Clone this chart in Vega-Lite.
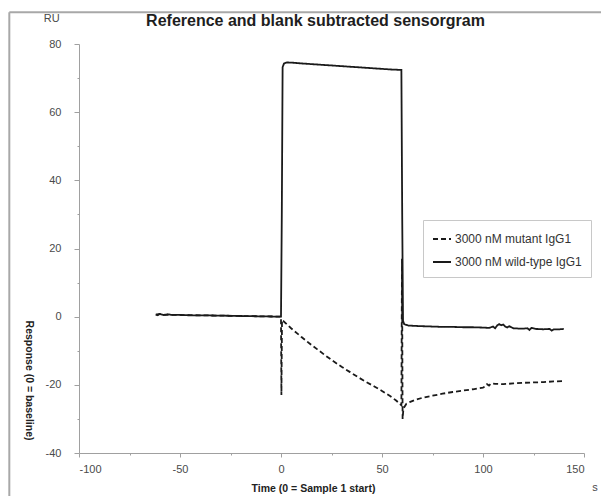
{
  "$schema": "https://vega.github.io/schema/vega-lite/v6.json",
  "width": 505,
  "height": 409,
  "autosize": {"type": "none"},
  "padding": {"left": 79, "top": 44, "right": 17, "bottom": 43},
  "background": "white",
  "title": {
    "text": "Reference and blank subtracted sensorgram",
    "font": "Liberation Sans",
    "fontSize": 16,
    "fontWeight": "bold",
    "color": "#1e1e1e",
    "anchor": "middle",
    "frame": "group",
    "dx": -16,
    "dy": 18,
    "offset": 0
  },
  "config": {
    "view": {"stroke": null},
    "font": "Liberation Sans"
  },
  "datasets": {
    "curves": [
      {"t": -62, "v": 0.6, "s": "3000 nM mutant IgG1"},
      {"t": -60, "v": 0.8, "s": "3000 nM mutant IgG1"},
      {"t": -58, "v": 0.5, "s": "3000 nM mutant IgG1"},
      {"t": -50, "v": 0.5, "s": "3000 nM mutant IgG1"},
      {"t": -40, "v": 0.4, "s": "3000 nM mutant IgG1"},
      {"t": -30, "v": 0.3, "s": "3000 nM mutant IgG1"},
      {"t": -20, "v": 0.2, "s": "3000 nM mutant IgG1"},
      {"t": -10, "v": 0.1, "s": "3000 nM mutant IgG1"},
      {"t": 0, "v": 0, "s": "3000 nM mutant IgG1"},
      {"t": 0.2, "v": -23, "s": "3000 nM mutant IgG1"},
      {"t": 0.5, "v": -1.0, "s": "3000 nM mutant IgG1"},
      {"t": 1, "v": -1.2, "s": "3000 nM mutant IgG1"},
      {"t": 3, "v": -2.3, "s": "3000 nM mutant IgG1"},
      {"t": 5, "v": -3.4, "s": "3000 nM mutant IgG1"},
      {"t": 8, "v": -4.9, "s": "3000 nM mutant IgG1"},
      {"t": 10, "v": -5.9, "s": "3000 nM mutant IgG1"},
      {"t": 14, "v": -7.8, "s": "3000 nM mutant IgG1"},
      {"t": 18, "v": -9.6, "s": "3000 nM mutant IgG1"},
      {"t": 22, "v": -11.4, "s": "3000 nM mutant IgG1"},
      {"t": 26, "v": -13.1, "s": "3000 nM mutant IgG1"},
      {"t": 30, "v": -14.7, "s": "3000 nM mutant IgG1"},
      {"t": 34, "v": -16.2, "s": "3000 nM mutant IgG1"},
      {"t": 38, "v": -17.7, "s": "3000 nM mutant IgG1"},
      {"t": 42, "v": -19.1, "s": "3000 nM mutant IgG1"},
      {"t": 46, "v": -20.4, "s": "3000 nM mutant IgG1"},
      {"t": 50, "v": -21.8, "s": "3000 nM mutant IgG1"},
      {"t": 54, "v": -23.3, "s": "3000 nM mutant IgG1"},
      {"t": 57, "v": -24.6, "s": "3000 nM mutant IgG1"},
      {"t": 59.6, "v": -26.0, "s": "3000 nM mutant IgG1"},
      {"t": 59.9, "v": 17, "s": "3000 nM mutant IgG1"},
      {"t": 60.2, "v": -30, "s": "3000 nM mutant IgG1"},
      {"t": 60.6, "v": -27, "s": "3000 nM mutant IgG1"},
      {"t": 61, "v": -26.6, "s": "3000 nM mutant IgG1"},
      {"t": 62, "v": -25.6, "s": "3000 nM mutant IgG1"},
      {"t": 64, "v": -25.0, "s": "3000 nM mutant IgG1"},
      {"t": 66, "v": -24.5, "s": "3000 nM mutant IgG1"},
      {"t": 70, "v": -23.8, "s": "3000 nM mutant IgG1"},
      {"t": 75, "v": -23.2, "s": "3000 nM mutant IgG1"},
      {"t": 80, "v": -22.6, "s": "3000 nM mutant IgG1"},
      {"t": 85, "v": -22.1, "s": "3000 nM mutant IgG1"},
      {"t": 90, "v": -21.7, "s": "3000 nM mutant IgG1"},
      {"t": 95, "v": -21.3, "s": "3000 nM mutant IgG1"},
      {"t": 100, "v": -20.8, "s": "3000 nM mutant IgG1"},
      {"t": 101, "v": -20.5, "s": "3000 nM mutant IgG1"},
      {"t": 102, "v": -19.8, "s": "3000 nM mutant IgG1"},
      {"t": 103, "v": -20.2, "s": "3000 nM mutant IgG1"},
      {"t": 104, "v": -19.6, "s": "3000 nM mutant IgG1"},
      {"t": 106, "v": -19.7, "s": "3000 nM mutant IgG1"},
      {"t": 110, "v": -19.8, "s": "3000 nM mutant IgG1"},
      {"t": 115, "v": -19.6, "s": "3000 nM mutant IgG1"},
      {"t": 120, "v": -19.4, "s": "3000 nM mutant IgG1"},
      {"t": 125, "v": -19.3, "s": "3000 nM mutant IgG1"},
      {"t": 130, "v": -19.2, "s": "3000 nM mutant IgG1"},
      {"t": 135, "v": -19.0, "s": "3000 nM mutant IgG1"},
      {"t": 140, "v": -18.9, "s": "3000 nM mutant IgG1"},

      {"t": -62, "v": 0.6, "s": "3000 nM wild-type IgG1"},
      {"t": -61, "v": 0.4, "s": "3000 nM wild-type IgG1"},
      {"t": -60, "v": 0.8, "s": "3000 nM wild-type IgG1"},
      {"t": -58, "v": 0.5, "s": "3000 nM wild-type IgG1"},
      {"t": -56, "v": 0.7, "s": "3000 nM wild-type IgG1"},
      {"t": -54, "v": 0.5, "s": "3000 nM wild-type IgG1"},
      {"t": -50, "v": 0.5, "s": "3000 nM wild-type IgG1"},
      {"t": -45, "v": 0.4, "s": "3000 nM wild-type IgG1"},
      {"t": -40, "v": 0.4, "s": "3000 nM wild-type IgG1"},
      {"t": -35, "v": 0.35, "s": "3000 nM wild-type IgG1"},
      {"t": -30, "v": 0.3, "s": "3000 nM wild-type IgG1"},
      {"t": -25, "v": 0.25, "s": "3000 nM wild-type IgG1"},
      {"t": -20, "v": 0.2, "s": "3000 nM wild-type IgG1"},
      {"t": -15, "v": 0.15, "s": "3000 nM wild-type IgG1"},
      {"t": -10, "v": 0.1, "s": "3000 nM wild-type IgG1"},
      {"t": -5, "v": 0.05, "s": "3000 nM wild-type IgG1"},
      {"t": 0, "v": 0, "s": "3000 nM wild-type IgG1"},
      {"t": 0.4, "v": 30, "s": "3000 nM wild-type IgG1"},
      {"t": 0.8, "v": 73.2, "s": "3000 nM wild-type IgG1"},
      {"t": 1.5, "v": 74.3, "s": "3000 nM wild-type IgG1"},
      {"t": 3, "v": 74.6, "s": "3000 nM wild-type IgG1"},
      {"t": 6, "v": 74.5, "s": "3000 nM wild-type IgG1"},
      {"t": 10, "v": 74.3, "s": "3000 nM wild-type IgG1"},
      {"t": 15, "v": 74.1, "s": "3000 nM wild-type IgG1"},
      {"t": 20, "v": 73.9, "s": "3000 nM wild-type IgG1"},
      {"t": 25, "v": 73.7, "s": "3000 nM wild-type IgG1"},
      {"t": 30, "v": 73.5, "s": "3000 nM wild-type IgG1"},
      {"t": 35, "v": 73.3, "s": "3000 nM wild-type IgG1"},
      {"t": 40, "v": 73.1, "s": "3000 nM wild-type IgG1"},
      {"t": 45, "v": 72.9, "s": "3000 nM wild-type IgG1"},
      {"t": 50, "v": 72.7, "s": "3000 nM wild-type IgG1"},
      {"t": 55, "v": 72.5, "s": "3000 nM wild-type IgG1"},
      {"t": 59.6, "v": 72.4, "s": "3000 nM wild-type IgG1"},
      {"t": 60, "v": 30, "s": "3000 nM wild-type IgG1"},
      {"t": 60.4, "v": -1.2, "s": "3000 nM wild-type IgG1"},
      {"t": 61, "v": -2.2, "s": "3000 nM wild-type IgG1"},
      {"t": 63, "v": -2.6, "s": "3000 nM wild-type IgG1"},
      {"t": 66, "v": -2.7, "s": "3000 nM wild-type IgG1"},
      {"t": 70, "v": -2.8, "s": "3000 nM wild-type IgG1"},
      {"t": 75, "v": -2.9, "s": "3000 nM wild-type IgG1"},
      {"t": 80, "v": -3.0, "s": "3000 nM wild-type IgG1"},
      {"t": 85, "v": -3.0, "s": "3000 nM wild-type IgG1"},
      {"t": 90, "v": -3.1, "s": "3000 nM wild-type IgG1"},
      {"t": 95, "v": -3.1, "s": "3000 nM wild-type IgG1"},
      {"t": 100, "v": -3.2, "s": "3000 nM wild-type IgG1"},
      {"t": 103, "v": -3.3, "s": "3000 nM wild-type IgG1"},
      {"t": 105, "v": -2.9, "s": "3000 nM wild-type IgG1"},
      {"t": 106, "v": -3.4, "s": "3000 nM wild-type IgG1"},
      {"t": 107, "v": -2.6, "s": "3000 nM wild-type IgG1"},
      {"t": 108, "v": -2.2, "s": "3000 nM wild-type IgG1"},
      {"t": 109, "v": -2.5, "s": "3000 nM wild-type IgG1"},
      {"t": 110, "v": -2.3, "s": "3000 nM wild-type IgG1"},
      {"t": 111, "v": -2.9, "s": "3000 nM wild-type IgG1"},
      {"t": 112, "v": -3.2, "s": "3000 nM wild-type IgG1"},
      {"t": 113, "v": -2.8, "s": "3000 nM wild-type IgG1"},
      {"t": 115, "v": -3.4, "s": "3000 nM wild-type IgG1"},
      {"t": 118, "v": -3.5, "s": "3000 nM wild-type IgG1"},
      {"t": 120, "v": -3.5, "s": "3000 nM wild-type IgG1"},
      {"t": 122, "v": -3.4, "s": "3000 nM wild-type IgG1"},
      {"t": 123, "v": -3.9, "s": "3000 nM wild-type IgG1"},
      {"t": 124, "v": -3.3, "s": "3000 nM wild-type IgG1"},
      {"t": 126, "v": -3.6, "s": "3000 nM wild-type IgG1"},
      {"t": 130, "v": -3.7, "s": "3000 nM wild-type IgG1"},
      {"t": 133, "v": -3.6, "s": "3000 nM wild-type IgG1"},
      {"t": 134, "v": -4.1, "s": "3000 nM wild-type IgG1"},
      {"t": 135, "v": -3.7, "s": "3000 nM wild-type IgG1"},
      {"t": 138, "v": -3.7, "s": "3000 nM wild-type IgG1"},
      {"t": 140, "v": -3.6, "s": "3000 nM wild-type IgG1"}
    ],
    "units": [
      {"t": -113.5, "v": 87.3, "label": "RU"},
      {"t": 155.5, "v": -50.3, "label": "s"}
    ],
    "frame": [
      {"t": -134.5, "v": 89.3, "t2": -134.5, "v2": -56},
      {"t": -134.5, "v": 89.3, "t2": 162, "v2": 89.3}
    ]
  },
  "encoding": {
    "x": {
      "field": "t",
      "type": "quantitative",
      "scale": {"domain": [-100, 150], "nice": false, "zero": false},
      "axis": {
        "title": "Time (0 = Sample 1 start)",
        "values": [-100, -75, -50, -25, 0, 25, 50, 75, 100, 125, 150],
        "labelExpr": "datum.value % 50 === 0 ? '' + datum.value : ''",
        "grid": false,
        "domainColor": "#a0a0a0",
        "tickColor": "#a0a0a0",
        "tickSize": {"condition": {"test": "datum.value % 50 === 0", "value": 4}, "value": 2},
        "labelColor": "#4a4a4a",
        "labelFontSize": 11,
        "labelPadding": 6,
        "titleFontSize": 10.5,
        "titleFontWeight": "bold",
        "titleColor": "#222",
        "titleX": 234,
        "titleY": 35,
        "titleBaseline": "middle",
        "titleAlign": "center"
      }
    },
    "y": {
      "field": "v",
      "type": "quantitative",
      "scale": {"domain": [-40, 80], "nice": false, "zero": false},
      "axis": {
        "title": "Response (0 = baseline)",
        "values": [-40, -30, -20, -10, 0, 10, 20, 30, 40, 50, 60, 70, 80],
        "labelExpr": "datum.value % 20 === 0 ? '' + datum.value : ''",
        "grid": false,
        "domainColor": "#a0a0a0",
        "tickColor": "#a0a0a0",
        "tickSize": {"condition": {"test": "datum.value % 20 === 0", "value": 5}, "value": 2},
        "labelColor": "#4a4a4a",
        "labelFontSize": 11,
        "labelPadding": 13,
        "titleFontSize": 10.5,
        "titleFontWeight": "bold",
        "titleColor": "#222",
        "titleAngle": 90,
        "titleX": -51,
        "titleY": 336,
        "titleBaseline": "middle",
        "titleAlign": "center"
      }
    }
  },
  "layer": [
    {
      "data": {"name": "frame"},
      "mark": {"type": "rule", "color": "#a8a8a8", "strokeWidth": 2, "clip": false},
      "encoding": {
        "x2": {"field": "t2"},
        "y2": {"field": "v2"}
      }
    },
    {
      "data": {"name": "curves"},
      "mark": {"type": "line", "strokeWidth": 1.8, "color": "#1a1a1a"},
      "encoding": {
        "detail": {"field": "s"},
        "strokeDash": {
          "field": "s",
          "type": "nominal",
          "scale": {
            "domain": ["3000 nM mutant IgG1", "3000 nM wild-type IgG1"],
            "range": [[5, 3], [1, 0]]
          },
          "legend": {
            "orient": "none",
            "legendX": 344,
            "legendY": 176,
            "title": null,
            "strokeColor": "#c8c8c8",
            "padding": 9,
            "symbolType": "stroke",
            "symbolSize": 324,
            "symbolStrokeWidth": 2,
            "symbolStrokeColor": "#1a1a1a",
            "labelFontSize": 12,
            "labelColor": "#333",
            "labelOffset": 3,
            "rowPadding": 7
          }
        }
      }
    },
    {
      "data": {"name": "units"},
      "mark": {"type": "text", "fontSize": 11, "color": "#4a4a4a", "baseline": "middle", "align": "center"},
      "encoding": {
        "text": {"field": "label"}
      }
    }
  ]
}
